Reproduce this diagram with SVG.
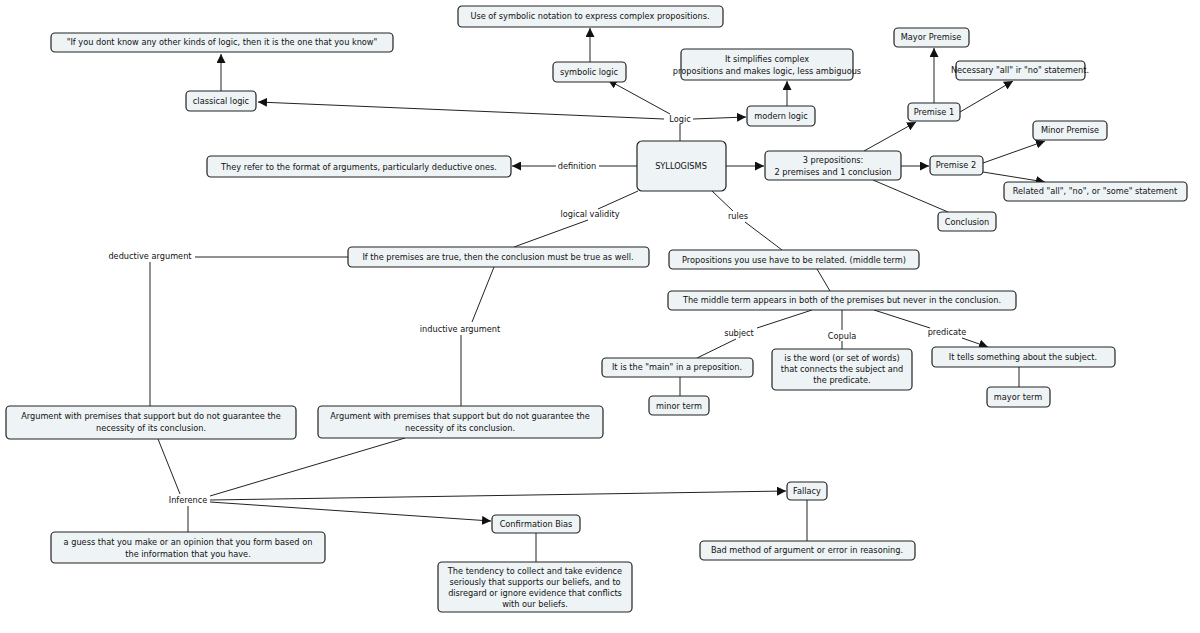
<svg xmlns="http://www.w3.org/2000/svg" width="1200" height="633" viewBox="0 0 1200 633">
<style>
.n rect{fill:#eef3f5;stroke:#222;stroke-width:1.2}
text{font-family:"DejaVu Sans",Verdana,sans-serif;font-size:8.2px;fill:#111;text-anchor:middle}
.c line{stroke:#222;stroke-width:1}
</style>
<defs><marker id="a" viewBox="0 0 10 10" refX="10" refY="5" markerWidth="9" markerHeight="9" markerUnits="userSpaceOnUse" orient="auto"><path d="M0,0L10,5L0,10z" fill="#111"/></marker></defs>
<rect width="1200" height="633" fill="#fff"/>
<g class="c">
<line x1="680" y1="141" x2="680" y2="124"/>
<line x1="670" y1="114" x2="608" y2="80" marker-end="url(#a)"/>
<line x1="664" y1="119" x2="258" y2="102" marker-end="url(#a)"/>
<line x1="693" y1="119" x2="746" y2="117" marker-end="url(#a)"/>
<line x1="221" y1="91" x2="221" y2="54" marker-end="url(#a)"/>
<line x1="590" y1="62" x2="590" y2="28" marker-end="url(#a)"/>
<line x1="787" y1="106" x2="787" y2="81" marker-end="url(#a)"/>
<line x1="637" y1="166" x2="599" y2="166"/>
<line x1="556" y1="166" x2="512" y2="166" marker-end="url(#a)"/>
<line x1="726" y1="166" x2="764" y2="166" marker-end="url(#a)"/>
<line x1="864" y1="151" x2="916" y2="122" marker-end="url(#a)"/>
<line x1="901" y1="166" x2="929" y2="166" marker-end="url(#a)"/>
<line x1="873" y1="180" x2="948" y2="212"/>
<line x1="934" y1="103" x2="934" y2="48" marker-end="url(#a)"/>
<line x1="960" y1="112" x2="1013" y2="81" marker-end="url(#a)"/>
<line x1="983" y1="163" x2="1045" y2="141" marker-end="url(#a)"/>
<line x1="983" y1="172" x2="1045" y2="182" marker-end="url(#a)"/>
<line x1="638" y1="191" x2="598" y2="209"/>
<line x1="588" y1="220" x2="514" y2="247"/>
<line x1="712" y1="191" x2="733" y2="211"/>
<line x1="745" y1="222" x2="782" y2="250"/>
<line x1="348" y1="257" x2="195" y2="257"/>
<line x1="150" y1="262" x2="150" y2="406"/>
<line x1="494" y1="267" x2="472" y2="322"/>
<line x1="461" y1="335" x2="461" y2="406"/>
<line x1="817" y1="269" x2="830" y2="291"/>
<line x1="812" y1="310" x2="757" y2="328"/>
<line x1="736" y1="339" x2="697" y2="358"/>
<line x1="842" y1="310" x2="842" y2="330"/>
<line x1="842" y1="341" x2="842" y2="349"/>
<line x1="874" y1="310" x2="930" y2="328"/>
<line x1="962" y1="338" x2="988" y2="347" marker-end="url(#a)"/>
<line x1="680" y1="377" x2="680" y2="396"/>
<line x1="1019" y1="367" x2="1019" y2="387"/>
<line x1="158" y1="439" x2="180" y2="494"/>
<line x1="405" y1="438" x2="210" y2="496"/>
<line x1="210" y1="500" x2="786" y2="491" marker-end="url(#a)"/>
<line x1="210" y1="502" x2="491" y2="521" marker-end="url(#a)"/>
<line x1="188" y1="506" x2="188" y2="532"/>
<line x1="807" y1="500" x2="807" y2="541"/>
<line x1="536" y1="533" x2="536" y2="562"/>
</g>
<g>
<text x="680" y="122">Logic</text>
<text x="577" y="169">definition</text>
<text x="590" y="217">logical validity</text>
<text x="738" y="219">rules</text>
<text x="150" y="259">deductive argument</text>
<text x="460" y="332">inductive argument</text>
<text x="739" y="336">subject</text>
<text x="842" y="339">Copula</text>
<text x="947" y="335">predicate</text>
<text x="188" y="503">Inference</text>
</g>
<g class="n">
<g id="n1"><rect x="458" y="6" width="265" height="21" rx="4"/><text x="590" y="19">Use of symbolic notation to express complex propositions.</text></g>
<g id="n2"><rect x="51" y="33" width="342" height="19" rx="4"/><text x="222" y="45">"If you dont know any other kinds of logic, then it is the one that you know"</text></g>
<g id="n3"><rect x="186" y="91" width="70" height="20" rx="4"/><text x="221" y="104">classical logic</text></g>
<g id="n4"><rect x="553" y="62" width="73" height="20" rx="4"/><text x="589" y="75">symbolic logic</text></g>
<g id="n5"><rect x="681" y="49" width="172" height="31" rx="4"/><text x="767" y="62">It simplifies complex</text><text x="767" y="74">propositions and makes logic, less ambiguous</text></g>
<g id="n6"><rect x="747" y="106" width="68" height="20" rx="4"/><text x="781" y="119">modern logic</text></g>
<g id="n7"><rect x="894" y="28" width="75" height="19" rx="4"/><text x="931" y="40">Mayor Premise</text></g>
<g id="n8"><rect x="956" y="61" width="129" height="19" rx="4"/><text x="1020" y="73">Necessary "all" ir "no" statement.</text></g>
<g id="n9"><rect x="908" y="103" width="52" height="18" rx="4"/><text x="934" y="115">Premise 1</text></g>
<g id="n10"><rect x="1033" y="121" width="74" height="19" rx="4"/><text x="1070" y="133">Minor Premise</text></g>
<g id="n11"><rect x="930" y="156" width="53" height="19" rx="4"/><text x="956" y="168">Premise 2</text></g>
<g id="n12"><rect x="1004" y="182" width="183" height="19" rx="4"/><text x="1095" y="194">Related "all", "no", or "some" statement</text></g>
<g id="n13"><rect x="938" y="212" width="58" height="19" rx="4"/><text x="967" y="225">Conclusion</text></g>
<g id="n14"><rect x="765" y="151" width="136" height="29" rx="4"/><text x="833" y="163">3 prepositions:</text><text x="833" y="175">2 premises and 1 conclusion</text></g>
<g id="n15"><rect x="637" y="141" width="89" height="50" rx="5"/><text x="681" y="169">SYLLOGISMS</text></g>
<g id="n16"><rect x="207" y="156" width="304" height="21" rx="4"/><text x="359" y="170">They refer to the format of arguments, particularly deductive ones.</text></g>
<g id="n17"><rect x="348" y="247" width="301" height="20" rx="4"/><text x="498" y="260">If the premises are true, then the conclusion must be true as well.</text></g>
<g id="n18"><rect x="669" y="250" width="250" height="19" rx="4"/><text x="794" y="263">Propositions you use have to be related. (middle term)</text></g>
<g id="n19"><rect x="668" y="291" width="348" height="19" rx="4"/><text x="842" y="303">The middle term appears in both of the premises but never in the conclusion.</text></g>
<g id="n20"><rect x="602" y="358" width="151" height="19" rx="4"/><text x="677" y="370">It is the "main" in a preposition.</text></g>
<g id="n21"><rect x="772" y="349" width="140" height="41" rx="4"/><text x="842" y="361">is the word (or set of words)</text><text x="842" y="372">that connects the subject and</text><text x="842" y="383">the predicate.</text></g>
<g id="n22"><rect x="932" y="347" width="183" height="20" rx="4"/><text x="1023" y="360">It tells something about the subject.</text></g>
<g id="n23"><rect x="649" y="396" width="60" height="19" rx="4"/><text x="679" y="409">minor term</text></g>
<g id="n24"><rect x="987" y="387" width="63" height="20" rx="4"/><text x="1018" y="400">mayor term</text></g>
<g id="n25"><rect x="6" y="406" width="290" height="33" rx="4"/><text x="151" y="419">Argument with premises that support but do not guarantee the</text><text x="151" y="431">necessity of its conclusion.</text></g>
<g id="n26"><rect x="318" y="406" width="285" height="32" rx="4"/><text x="460" y="419">Argument with premises that support but do not guarantee the</text><text x="460" y="431">necessity of its conclusion.</text></g>
<g id="n27"><rect x="51" y="532" width="274" height="31" rx="4"/><text x="188" y="545">a guess that you make or an opinion that you form based on</text><text x="188" y="557">the information that you have.</text></g>
<g id="n28"><rect x="492" y="515" width="88" height="18" rx="4"/><text x="536" y="527">Confirmation Bias</text></g>
<g id="n29"><rect x="787" y="482" width="40" height="18" rx="4"/><text x="807" y="494">Fallacy</text></g>
<g id="n30"><rect x="700" y="541" width="215" height="19" rx="4"/><text x="807" y="553">Bad method of argument or error in reasoning.</text></g>
<g id="n31"><rect x="438" y="562" width="194" height="50" rx="4"/><text x="535" y="574">The tendency to collect and take evidence</text><text x="535" y="585">seriously that supports our beliefs, and to</text><text x="535" y="596">disregard or ignore evidence that conflicts</text><text x="535" y="607">with our beliefs.</text></g>
</g>
</svg>
